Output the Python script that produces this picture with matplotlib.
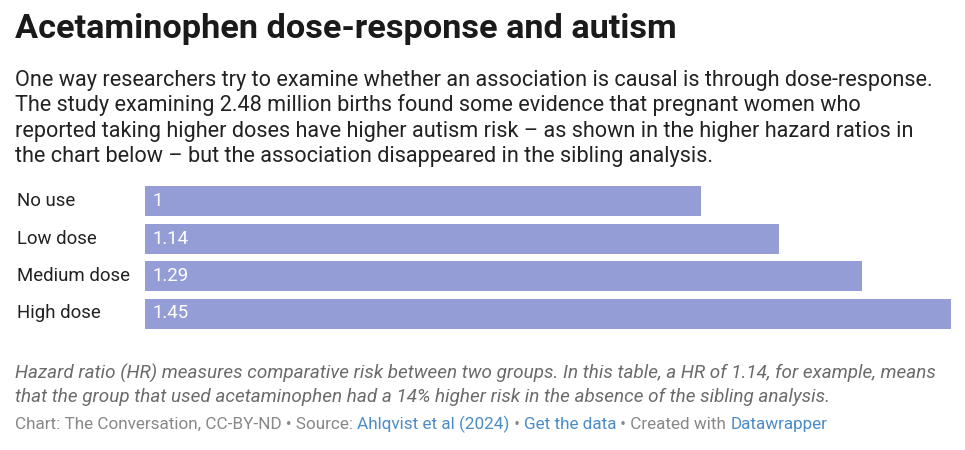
import matplotlib
matplotlib.use("Agg")
import matplotlib.pyplot as plt

# Data
categories = ["No use", "Low dose", "Medium dose", "High dose"]
hazard_ratios = [1, 1.14, 1.29, 1.45]
value_labels = ["1", "1.14", "1.29", "1.45"]

title = "Acetaminophen dose-response and autism"
subtitle_lines = [
    "One way researchers try to examine whether an association is causal is through dose-response.",
    "The study examining 2.48 million births found some evidence that pregnant women who",
    "reported taking higher doses have higher autism risk \u2013 as shown in the higher hazard ratios in",
    "the chart below \u2013 but the association disappeared in the sibling analysis.",
]
note_lines = [
    "Hazard ratio (HR) measures comparative risk between two groups. In this table, a HR of 1.14, for example, means",
    "that the group that used acetaminophen had a 14% higher risk in the absence of the sibling analysis.",
]
footer_parts = [("Chart: The Conversation, CC-BY-ND \u2022 Source: ", "#888888"),
                ("Ahlqvist et al (2024)", "#4a8cc7"),
                (" \u2022 ", "#888888"),
                ("Get the data", "#4a8cc7"),
                (" \u2022 Created with ", "#888888"),
                ("Datawrapper", "#4a8cc7")]

plt.rcParams['font.family'] = ['Roboto', 'DejaVu Sans']

W, H = 965, 450
fig = plt.figure(figsize=(W / 100, H / 100), dpi=100)

def px(x, y):
    return x / W, 1 - y / H

fig.text(*px(15, 38), title, fontsize=24.7, fontweight="bold", color="#1a1a1a", va="baseline")
for i, line in enumerate(subtitle_lines):
    fig.text(*px(15, 86 + i * 25.3), line, fontsize=15.6, color="#222222", va="baseline")

# bars axes: x from 145 to 951 px, rows centered at 201 + i*37.5
left, right = 145, 951
top, bottom = 186, 328.5
ax = fig.add_axes([left / W, 1 - bottom / H, (right - left) / W, (bottom - top) / H])
ypos = list(range(len(categories)))
ax.barh(ypos, hazard_ratios, height=0.8, color="#959dd6")
ax.set_xlim(0, max(hazard_ratios))
ax.set_ylim(len(categories) - 0.6, -0.4)
ax.axis("off")
for y, v, lab in zip(ypos, hazard_ratios, value_labels):
    ax.text(0.013, y, lab, color="white", fontsize=13.4, va="center", ha="left")
for y, cat in zip(ypos, categories):
    ax.annotate(cat, xy=(0, y), xycoords=("axes fraction", "data"),
                xytext=(-128, 0), textcoords="offset pixels",
                fontsize=13.4, color="#222222", va="center", ha="left")

for i, line in enumerate(note_lines):
    fig.text(*px(15, 379 + i * 23.5), line, fontsize=13.6, color="#6b6b6b",
             style="italic", va="baseline")

# footer with mixed colours
renderer = fig.canvas.get_renderer()
x = 15
for txt, col in footer_parts:
    t = fig.text(*px(x, 429), txt, fontsize=12.3, color=col, va="baseline")
    bb = t.get_window_extent(renderer=renderer)
    x += bb.width

fig.savefig("out.png", dpi=100)
